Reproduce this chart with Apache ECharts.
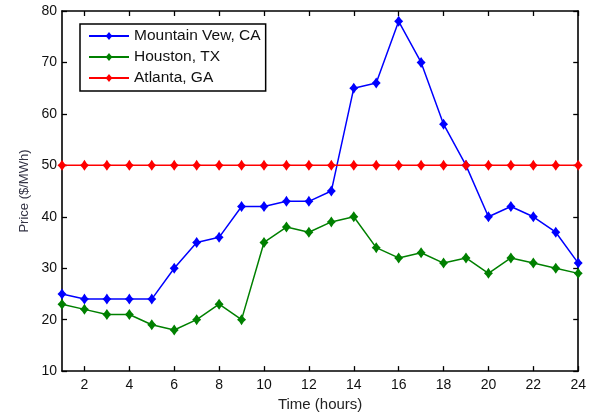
<!DOCTYPE html>
<html><head><meta charset="utf-8">
<script src="https://cdn.jsdelivr.net/npm/echarts@6/dist/echarts.min.js"></script>
<style>html,body{margin:0;padding:0;background:#fff}#c{width:589px;height:417px}</style>
</head><body><div id="c"></div>
<script>
const hours = [1,2,3,4,5,6,7,8,9,10,11,12,13,14,15,16,17,18,19,20,21,22,23,24];
const mountainView = [25,24,24,24,24,30,35,36,42,42,43,43,45,65,66,78,70,58,50,40,42,40,37,31];
const houston = [23,22,21,21,19,18,20,23,20,35,38,37,39,40,34,32,33,31,32,29,32,31,30,29];
const atlanta = [50,50,50,50,50,50,50,50,50,50,50,50,50,50,50,50,50,50,50,50,50,50,50,50];
const xTicks = [2,4,6,8,10,12,14,16,18,20,22,24];
const names = ['Mountain Vew, CA','Houston, TX','Atlanta, GA'];
const colors = ['#0000ff','#008000','#ff0000'];

const chart = echarts.init(document.getElementById('c'));
const font = 'Liberation Sans, Arial, sans-serif';
const star = 'path://M0,-10 L4,-4 L8,0 L4,4 L0,10 L-4,4 L-8,0 L-4,-4 Z';
function mk(name, data, color){
  return {name, type:'line', data: hours.map((h,i)=>[h,data[i]]),
    symbol:star, symbolSize:[9,11], showSymbol:true,
    lineStyle:{color, width:1.5}, itemStyle:{color}, animation:false};
}
const baseX = {type:'value', min:1, max:24,
  axisLine:{show:true, onZero:false, lineStyle:{color:'#000', width:1.6}},
  axisTick:{show:true, inside:true, length:5, customValues:xTicks, lineStyle:{color:'#000', width:1.3}},
  axisLabel:{customValues:xTicks, color:'#111', fontSize:14, fontFamily:font, margin:7},
  splitLine:{show:false}};
const baseY = {type:'value', min:10, max:80, interval:10,
  axisLine:{show:true, onZero:false, lineStyle:{color:'#000', width:1.6}},
  axisTick:{show:true, inside:true, length:5, lineStyle:{color:'#000', width:1.3}},
  axisLabel:{color:'#111', fontSize:14, fontFamily:font, margin:5},
  splitLine:{show:false}};
chart.setOption({
  animation:false,
  grid:{left:62, right:6, top:11, bottom:40, containLabel:false},
  xAxis:[Object.assign({}, baseX, {name:'Time (hours)', nameLocation:'middle', nameGap:24,
      nameTextStyle:{color:'#222', fontSize:15, fontFamily:font}}),
    Object.assign({}, baseX, {position:'top', axisLabel:{show:false}})],
  yAxis:[Object.assign({}, baseY, {name:'Price ($/MWh)', nameLocation:'middle', nameGap:30,
      nameTextStyle:{color:'#334', fontSize:13, fontFamily:font}}),
    Object.assign({}, baseY, {position:'right', axisLabel:{show:false}})],
  legend:{show:true, orient:'vertical', left:80, top:24, data:names,
    itemWidth:40, itemHeight:10, itemGap:5, padding:[4,5,5,8],
    borderColor:'#000', borderWidth:1.5, backgroundColor:'#fff',
    textStyle:{color:'#111', fontSize:15.5, fontFamily:font}},
  series:[mk(names[0], mountainView, colors[0]), mk(names[1], houston, colors[1]), mk(names[2], atlanta, colors[2])]
});
</script></body></html>
